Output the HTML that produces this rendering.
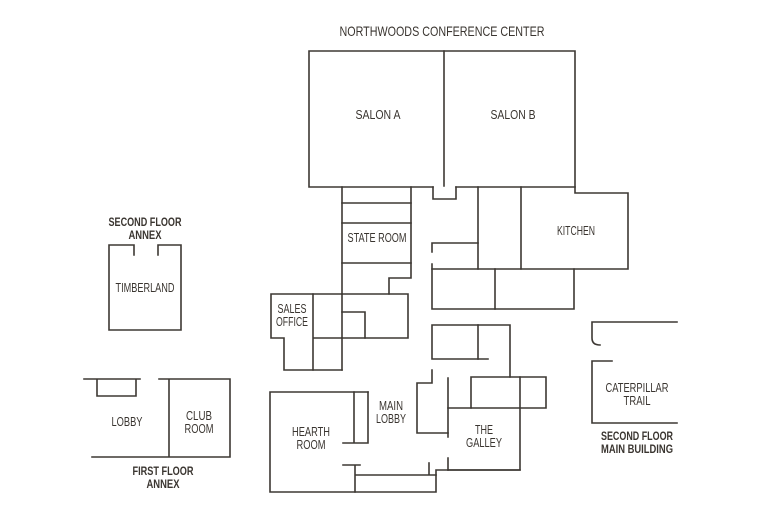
<!DOCTYPE html>
<html><head><meta charset="utf-8"><style>
html,body{margin:0;padding:0;background:#fff;width:768px;height:512px;overflow:hidden}
svg text{font-family:"Liberation Sans Narrow","Liberation Sans",sans-serif;fill:#3a3530;text-anchor:middle}
.t{font-size:12.5px}
.b{font-size:12px;font-weight:bold}
</style></head><body>
<svg width="768" height="512" viewBox="0 0 768 512" xmlns="http://www.w3.org/2000/svg">
<g fill="none" stroke="#3d3833" stroke-width="1.6" stroke-linecap="square">
<path d="M433 187H309V51H575V193H628V269H432"/>
<path d="M444 51V186"/>
<path d="M456 187H575"/>
<path d="M433 187V199H456V187"/>
<path d="M342 187V370"/>
<path d="M411 187V278H389V294"/>
<path d="M342 203H411M342 223H411M342 263H411"/>
<path d="M342 294H271V338H284V370H342"/>
<path d="M313 294V370M313 338H342"/>
<path d="M342 294H408V338H342"/>
<path d="M342 312H365V338"/>
<path d="M478 187V269M521 187V269"/>
<path d="M432 252V243H478"/>
<path d="M432 264V309H574V269"/>
<path d="M495 269V309"/>
<path d="M488 359H432V325H510V377"/>
<path d="M478 325V359"/>
<path d="M471 377H546V408H471Z"/>
<path d="M520 377V470H448"/>
<path d="M448 378V437M448 458V470"/>
<path d="M448 408H471"/>
<path d="M432 370V383H417V433H448"/>
<path d="M368 392H270V492H436V470H520"/>
<path d="M354 392V443M368 392V443H343"/>
<path d="M343 465H360M355 465V492M355 475H436"/>
<path d="M429 463V474"/>
<path d="M134 255V245H109V330H181V245H158V255"/>
<path d="M84 379H140M97 379V396H136V379"/>
<path d="M159 379H230V457H92M169 379V457"/>
<path d="M677 322H592V338Q592 345 600 345"/>
<path d="M612 361H592V423H677"/>
</g>
<g lengthAdjust="spacingAndGlyphs">
<text x="442" y="36" style="font-size:14px" textLength="205" lengthAdjust="spacingAndGlyphs">NORTHWOODS CONFERENCE CENTER</text>
<text class="t" x="378" y="119" textLength="45" lengthAdjust="spacingAndGlyphs">SALON A</text>
<text class="t" x="513" y="119" textLength="45" lengthAdjust="spacingAndGlyphs">SALON B</text>
<text class="t" x="377" y="242" textLength="59" lengthAdjust="spacingAndGlyphs">STATE ROOM</text>
<text class="t" x="576" y="235" textLength="38" lengthAdjust="spacingAndGlyphs">KITCHEN</text>
<text class="t" x="292" y="313" textLength="29" lengthAdjust="spacingAndGlyphs">SALES</text>
<text class="t" x="292" y="326" textLength="32" lengthAdjust="spacingAndGlyphs">OFFICE</text>
<text class="t" x="145" y="292" textLength="59" lengthAdjust="spacingAndGlyphs">TIMBERLAND</text>
<text class="b" x="145" y="226" textLength="73" lengthAdjust="spacingAndGlyphs">SECOND FLOOR</text>
<text class="b" x="145" y="239" textLength="33" lengthAdjust="spacingAndGlyphs">ANNEX</text>
<text class="t" x="127" y="426" textLength="31" lengthAdjust="spacingAndGlyphs">LOBBY</text>
<text class="t" x="199" y="420" textLength="26" lengthAdjust="spacingAndGlyphs">CLUB</text>
<text class="t" x="199" y="433" textLength="29" lengthAdjust="spacingAndGlyphs">ROOM</text>
<text class="b" x="163" y="475" textLength="61" lengthAdjust="spacingAndGlyphs">FIRST FLOOR</text>
<text class="b" x="163" y="488" textLength="33" lengthAdjust="spacingAndGlyphs">ANNEX</text>
<text class="t" x="391" y="410" textLength="24" lengthAdjust="spacingAndGlyphs">MAIN</text>
<text class="t" x="391" y="423" textLength="30" lengthAdjust="spacingAndGlyphs">LOBBY</text>
<text class="t" x="311" y="436" textLength="38" lengthAdjust="spacingAndGlyphs">HEARTH</text>
<text class="t" x="311" y="449" textLength="29" lengthAdjust="spacingAndGlyphs">ROOM</text>
<text class="t" x="484" y="434" textLength="18" lengthAdjust="spacingAndGlyphs">THE</text>
<text class="t" x="484" y="447" textLength="36" lengthAdjust="spacingAndGlyphs">GALLEY</text>
<text class="t" x="637" y="392" textLength="63" lengthAdjust="spacingAndGlyphs">CATERPILLAR</text>
<text class="t" x="637" y="405" textLength="27" lengthAdjust="spacingAndGlyphs">TRAIL</text>
<text class="b" x="637" y="440" textLength="72" lengthAdjust="spacingAndGlyphs">SECOND FLOOR</text>
<text class="b" x="637" y="453" textLength="72" lengthAdjust="spacingAndGlyphs">MAIN BUILDING</text>
</g>
</svg>
</body></html>
